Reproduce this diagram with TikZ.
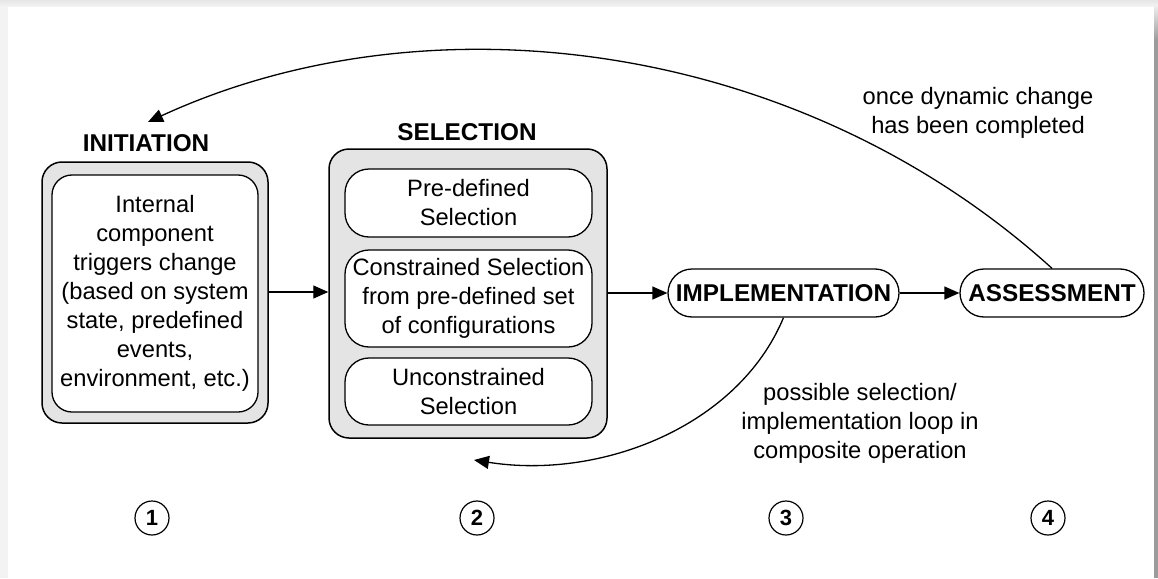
\documentclass[tikz,border=0pt]{standalone}
\usepackage{fontspec}
\setmainfont{Liberation Sans}
\usetikzlibrary{arrows.meta}
\definecolor{boxgrey}{HTML}{E4E4E4}
\definecolor{edgegrey}{HTML}{9C9C9C}
\definecolor{pagegrey}{HTML}{F3F3F3}
\begin{document}
\begin{tikzpicture}[x=1pt,y=-1pt,
  font=\fontsize{23.7}{29}\selectfont,
  outerbox/.style={draw, line width=1.5pt, rounded corners=20pt, fill=boxgrey, inner sep=0pt},
  innerbox/.style={draw, line width=1.3pt, rounded corners=#1, fill=white, align=center, inner sep=0pt},
  innerbox/.default=20pt,
  pill/.style={draw, line width=1.3pt, rounded corners=24pt, fill=white, inner sep=0pt,
    minimum height=48pt, font=\fontsize{24.3}{29}\selectfont\bfseries},
  phase/.style={font=\fontsize{24.3}{29}\selectfont\bfseries},
  note/.style={align=center},
  stepnum/.style={draw, circle, line width=1.2pt, minimum size=34pt, inner sep=0pt,
    font=\fontsize{22}{26}\selectfont\bfseries},
  flow/.style={-{Triangle[length=15pt,width=13pt]}, line width=1.3pt},
]
\useasboundingbox (0,0) rectangle (1158,578);

% page background and frame
\fill[pagegrey] (0,0) rectangle (1158,578);
\shade[top color=black!10, bottom color=black!4] (0,0) rectangle (1158,7);
\fill[white] (8,7) rectangle (1154,578);
\shade[top color=black!8, bottom color=edgegrey] (1154,7) rectangle (1158,40);
\fill[edgegrey] (1154,40) rectangle (1158,578);

% INITIATION
\node[phase] (tInit) at (146,143) {INITIATION};
\node[outerbox, minimum width=226pt, minimum height=261pt] (initOuter) at (155,292.5) {};
\node[innerbox, minimum width=206pt, minimum height=237pt] (initInner) at (155,293.5)
  {Internal\\component\\triggers change\\(based on system\\state, predefined\\events,\\environment, etc.)};

% SELECTION
\node[phase] (tSel) at (467,132) {SELECTION};
\node[outerbox, minimum width=278pt, minimum height=289pt] (selOuter) at (468,293.5) {};
\node[innerbox=24pt, minimum width=247pt, minimum height=68pt] (selPre) at (468.5,203)
  {Pre-defined\\Selection};
\node[innerbox=24pt, minimum width=247pt, minimum height=97pt] (selCon) at (468.5,298.5)
  {Constrained Selection\\from pre-defined set\\of configurations};
\node[innerbox=24pt, minimum width=247pt, minimum height=67pt] (selUn) at (468.5,391.5)
  {Unconstrained\\Selection};

% IMPLEMENTATION and ASSESSMENT
\node[pill, minimum width=231pt] (impl) at (783.5,293) {IMPLEMENTATION};
\node[pill, minimum width=184pt] (assess) at (1052,293) {ASSESSMENT};

% main flow
\draw[flow] (initOuter.east |- 0,292) -- (selOuter.west |- 0,292);
\draw[flow] (selOuter.east |- impl.west) -- (impl.west);
\draw[flow] (impl.east) -- (assess.west);

% feedback after assessment
\coordinate (backTip) at (148,122);
\draw[flow] (assess.north) .. controls (800,40) and (430,-8) .. (backTip);
\node[note] (backNote) at (978,112.5) {once dynamic change\\has been completed};

% selection / implementation loop
\coordinate (loopTip) at (474,460);
\draw[flow] (impl.south) .. controls (738,427) and (600,480) .. (loopTip);
\node[note] (loopNote) at (860,423) {possible selection/\\implementation loop in\\composite operation};

% step numbers
\node[stepnum] (n1) at (152,518) {1};
\node[stepnum] (n2) at (477,518) {2};
\node[stepnum] (n3) at (786,518) {3};
\node[stepnum] (n4) at (1048,518) {4};
\end{tikzpicture}
\end{document}
